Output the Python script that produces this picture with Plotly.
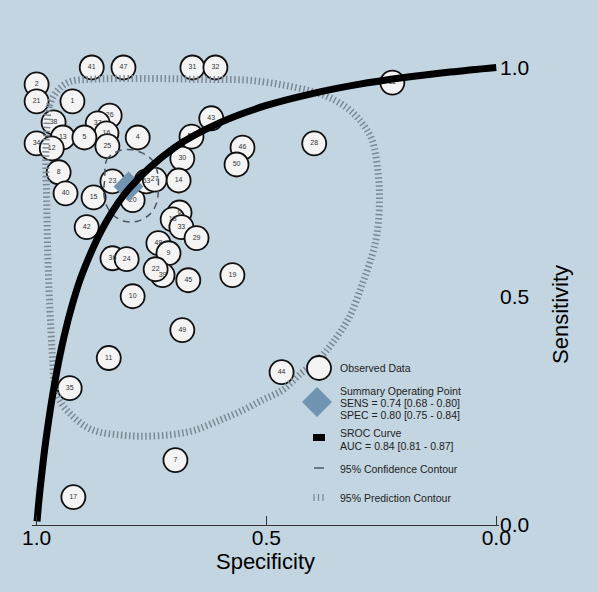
import plotly.graph_objects as go

# ---------------- data ----------------
study_labels = ["41", "47", "31", "32", "2", "21", "1", "26", "37", "38", "16", "13", "5", "25",
                "4", "34", "12", "8", "40", "15", "23", "20", "53", "27", "30", "14", "51", "43",
                "46", "50", "28", "52", "6", "18", "33", "29", "48", "9", "39", "22", "45", "19",
                "42", "36", "24", "10", "49", "11", "35", "44", "7", "17"]
study_spec = [0.880, 0.811, 0.661, 0.611, 1.000, 1.000, 0.922, 0.841, 0.867, 0.963, 0.848, 0.943,
              0.896, 0.846, 0.780, 1.000, 0.967, 0.952, 0.937, 0.876, 0.835, 0.791, 0.761, 0.743,
              0.683, 0.691, 0.663, 0.620, 0.552, 0.565, 0.396, 0.226, 0.689, 0.704, 0.685, 0.652,
              0.735, 0.713, 0.726, 0.741, 0.670, 0.574, 0.891, 0.835, 0.804, 0.791, 0.683, 0.843,
              0.928, 0.467, 0.698, 0.920]
study_sens = [1.000, 1.000, 1.000, 1.000, 0.963, 0.926, 0.926, 0.895, 0.878, 0.880, 0.856, 0.847,
              0.847, 0.828, 0.847, 0.834, 0.823, 0.771, 0.725, 0.716, 0.751, 0.710, 0.751, 0.755,
              0.801, 0.753, 0.849, 0.889, 0.825, 0.788, 0.834, 0.967, 0.683, 0.668, 0.651, 0.627,
              0.616, 0.594, 0.546, 0.559, 0.535, 0.546, 0.651, 0.583, 0.581, 0.500, 0.426, 0.365,
              0.299, 0.334, 0.142, 0.061]

summary_spec = [0.80]
summary_sens = [0.74]

sroc_spec = [0.999, 0.995, 0.99, 0.98, 0.96, 0.94, 0.92, 0.90, 0.85, 0.80, 0.70, 0.60,
             0.50, 0.40, 0.30, 0.20, 0.10, 0.0]
sroc_sens = [0.008, 0.053, 0.10, 0.184, 0.314, 0.413, 0.49, 0.551, 0.660, 0.734, 0.825, 0.880,
             0.917, 0.943, 0.963, 0.978, 0.990, 1.0]

conf_spec = [0.852, 0.848, 0.830, 0.802, 0.772, 0.748, 0.737, 0.735, 0.739, 0.754, 0.780, 0.809,
             0.833, 0.848, 0.854, 0.852]
conf_sens = [0.753, 0.797, 0.814, 0.821, 0.814, 0.797, 0.771, 0.740, 0.703, 0.679, 0.664, 0.664,
             0.677, 0.699, 0.727, 0.753]

pred_spec = [0.978, 0.972, 0.954, 0.928, 0.885, 0.754, 0.646, 0.537, 0.435, 0.374, 0.326, 0.293,
             0.270, 0.257, 0.254, 0.259, 0.270, 0.291, 0.320, 0.357, 0.389, 0.424, 0.465, 0.509,
             0.559, 0.602, 0.657, 0.711, 0.776, 0.820, 0.863, 0.891, 0.924, 0.950, 0.961, 0.965,
             0.972, 0.976, 0.978, 0.980, 0.978]
pred_sens = [0.862, 0.917, 0.950, 0.969, 0.974, 0.976, 0.974, 0.972, 0.956, 0.939, 0.913, 0.880,
             0.841, 0.769, 0.710, 0.638, 0.590, 0.528, 0.454, 0.397, 0.360, 0.332, 0.295, 0.273,
             0.247, 0.229, 0.207, 0.197, 0.194, 0.197, 0.203, 0.214, 0.240, 0.273, 0.306, 0.360,
             0.491, 0.600, 0.710, 0.797, 0.862]

tick_vals = [1.0, 0.5, 0.0]
tick_text = ["1.0", "0.5", "0.0"]

legend_lines = [
    ("Observed Data", 368),
    ("Summary Operating Point", 391),
    ("SENS = 0.74 [0.68 - 0.80]", 403),
    ("SPEC = 0.80 [0.75 - 0.84]", 415),
    ("SROC Curve", 433),
    ("AUC = 0.84 [0.81 - 0.87]", 446),
    ("95% Confidence Contour", 469),
    ("95% Prediction Contour", 498),
]

# ---------------- layout constants ----------------
FW, FH = 597, 592
L, R, T, B = 32, 98, 62, 67
PW, PH = FW - L - R, FH - T - B
BG = "#c3d5e1"
FONT = "Liberation Sans, Arial, Helvetica, sans-serif"


def px(x):
    return (x - L) / PW


def py(y):
    return (FH - B - y) / PH


fig = go.Figure()

fig.add_trace(go.Scatter(
    x=study_spec, y=study_sens, text=study_labels, mode="markers+text",
    textposition="middle center",
    textfont=dict(size=7, color="#333333", family=FONT),
    marker=dict(size=24, color="#f4f4f4", line=dict(color="#111111", width=1.8)),
    cliponaxis=False, showlegend=False, hoverinfo="skip"))

fig.add_trace(go.Scatter(
    x=pred_spec, y=pred_sens, mode="lines", line_shape="spline",
    line=dict(color="#7d8a94", width=7, dash="1.5px,2.6px"),
    showlegend=False, hoverinfo="skip"))

fig.add_trace(go.Scatter(
    x=conf_spec, y=conf_sens, mode="lines", line_shape="spline",
    line=dict(color="#4a5864", width=1.5, dash="7px,5px"),
    showlegend=False, hoverinfo="skip"))

fig.add_trace(go.Scatter(
    x=summary_spec, y=summary_sens, mode="markers",
    marker=dict(symbol="diamond", size=23, color="#7094b2", line=dict(width=0)),
    cliponaxis=False, showlegend=False, hoverinfo="skip"))

fig.add_trace(go.Scatter(
    x=sroc_spec, y=sroc_sens, mode="lines", line_shape="spline",
    line=dict(color="black", width=7),
    showlegend=False, hoverinfo="skip"))

shapes = [
    dict(type="circle", xref="paper", yref="paper",
         x0=px(307), x1=px(331), y0=py(380), y1=py(356),
         fillcolor="#f4f4f4", line=dict(color="#111111", width=1.8), layer="above"),
    dict(type="path", xref="paper", yref="paper",
         path=f"M {px(317)},{py(387)} L {px(332)},{py(402)} L {px(317)},{py(417)} L {px(302)},{py(402)} Z",
         fillcolor="#7094b2", line=dict(width=0), layer="above"),
    dict(type="rect", xref="paper", yref="paper",
         x0=px(313), x1=px(325), y0=py(441), y1=py(434),
         fillcolor="black", line=dict(width=0), layer="above"),
    dict(type="line", xref="paper", yref="paper",
         x0=px(314), x1=px(324), y0=py(468), y1=py(468),
         line=dict(color="#4a5864", width=1.5), layer="above"),
]
for xx in (314, 318.5, 323):
    shapes.append(dict(type="line", xref="paper", yref="paper",
                       x0=px(xx), x1=px(xx), y0=py(494), y1=py(501),
                       line=dict(color="#7d8a94", width=1.3), layer="above"))

annotations = []
for txt, yy in legend_lines:
    annotations.append(dict(text=txt, xref="paper", yref="paper", x=px(338), y=py(yy),
                            xanchor="left", yanchor="middle", showarrow=False,
                            font=dict(size=10.5, color="#222222", family=FONT)))
annotations.append(dict(text="Sensitivity", xref="paper", yref="paper", x=px(560), y=py(315),
                        xanchor="center", yanchor="middle", textangle=-90, showarrow=False,
                        font=dict(size=22, color="black", family=FONT)))

fig.update_layout(
    width=FW, height=FH,
    margin=dict(l=L, r=R, t=T, b=B),
    paper_bgcolor=BG, plot_bgcolor=BG,
    font=dict(family=FONT, color="black"),
    showlegend=False,
    shapes=shapes,
    annotations=annotations,
    xaxis=dict(range=[1.01, -0.006], tickvals=tick_vals, ticktext=tick_text,
               showgrid=False, zeroline=False, showline=True, linecolor="#333333", linewidth=1,
               ticks="inside", ticklen=9, tickcolor="#333333", tickwidth=1,
               ticklabelstandoff=-6,
               tickfont=dict(size=21, color="black", family=FONT),
               title=dict(text="Specificity", font=dict(size=22, color="black", family=FONT),
                          standoff=5)),
    yaxis=dict(range=[0, 1.012], tickvals=tick_vals, ticktext=tick_text, side="right",
               showgrid=False, zeroline=False, showline=False, ticks="",
               tickfont=dict(size=21, color="black", family=FONT)),
)

fig.write_html("out.html")
